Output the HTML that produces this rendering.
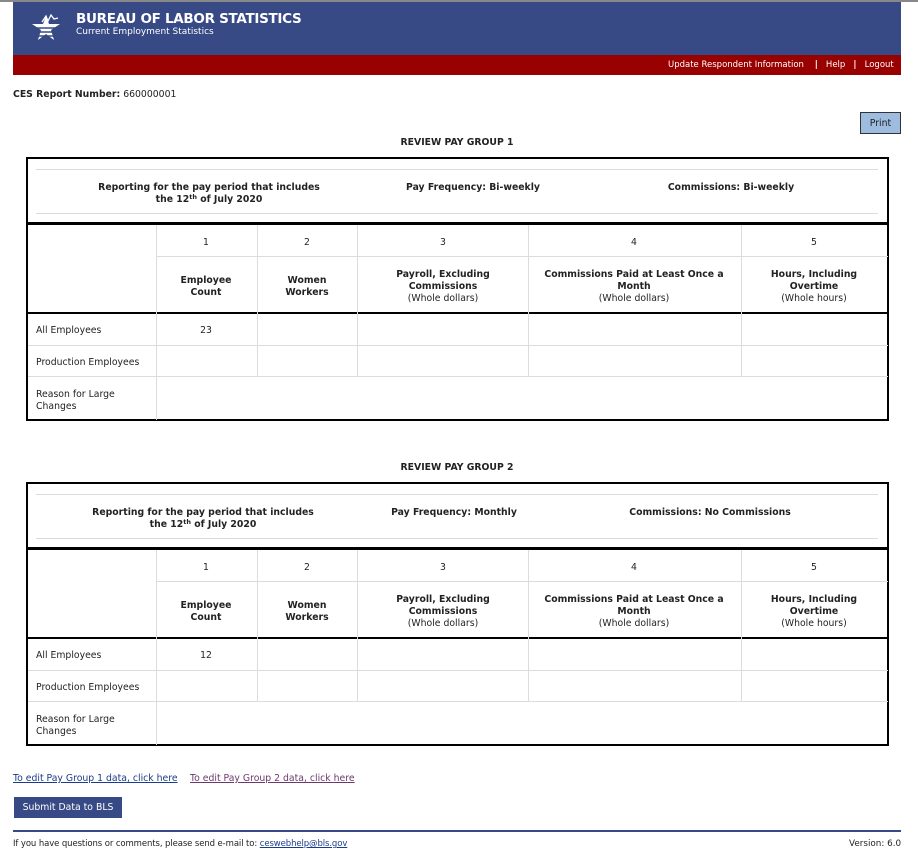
<!DOCTYPE html>
<html><head><meta charset="utf-8">
<style>
*{margin:0;padding:0;box-sizing:border-box}
body{width:918px;height:864px;background:#fff;font-family:"DejaVu Sans","Liberation Sans",sans-serif;font-size:9.3px;color:#222;position:relative;overflow:hidden}
.a{position:absolute}
.c{position:absolute;text-align:center;line-height:12px;transform:translateX(-50%);white-space:nowrap;margin-top:2px}
.b{font-weight:bold}
.tb{position:absolute;left:26px;width:863px;height:264px;border:2px solid #000}
.hl{position:absolute;background:#dcdcdc;height:1px}
.vl{position:absolute;background:#dcdcdc;width:1px}
.lbl{position:absolute;left:10px;line-height:12px;margin-top:2px}
sup{font-size:6.5px;line-height:0;vertical-align:3px}
</style></head><body>
<div class="a" style="left:0;top:0;width:918px;height:2px;background:#888"></div>
<div class="a" style="left:13px;top:2px;width:888px;height:53px;background:#374a86"></div>
<svg class="a" style="left:28px;top:12px" width="36" height="34" viewBox="0 0 36 34">
<polygon points="18,4 21,12 32,12 23,18 26,28 18,22 10,28 13,18 4,12 15,12" fill="#fff"/>
<g stroke="#374a86" stroke-width="1.4"><line x1="4" y1="16" x2="32" y2="16"/><line x1="4" y1="20" x2="32" y2="20"/><line x1="4" y1="24" x2="32" y2="24"/></g>
<polyline points="14,10 18,4 20,9 23,3 26,7 30,6" fill="none" stroke="#fff" stroke-width="1.3"/>
</svg>
<div class="a b" style="left:76px;top:11px;color:#fff;font-size:13.5px;letter-spacing:-0.3px">BUREAU OF LABOR STATISTICS</div>
<div class="a" style="left:76px;top:27px;color:#fff;font-size:9px">Current Employment Statistics</div>
<div class="a" style="left:13px;top:55px;width:888px;height:20px;background:#990000"></div>
<div class="a" style="left:668px;top:60px;color:#fff;font-size:8.5px;white-space:nowrap">Update Respondent Information &nbsp;&nbsp; <b>|</b> &nbsp;&nbsp;Help &nbsp; <b>|</b> &nbsp;&nbsp;Logout</div>
<div class="a" style="left:13px;top:89px"><b>CES Report Number:</b> 660000001</div>
<div class="a" style="left:860px;top:112px;width:41px;height:22px;background:#9dbcdf;border:1px solid #333;text-align:center;line-height:22px">Print</div>

<div class="c b" style="left:457px;top:135px">REVIEW PAY GROUP 1</div>
<div class="c b" style="left:457px;top:460px">REVIEW PAY GROUP 2</div>

<!-- TABLE 1 -->
<div class="tb" style="top:157px"></div>
<div class="hl" style="left:36px;top:169px;width:842px"></div>
<div class="hl" style="left:36px;top:213px;width:842px"></div>
<div class="c b" style="left:209px;top:180px">Reporting for the pay period that includes<br>the 12<sup>th</sup> of July 2020</div>
<div class="c b" style="left:473px;top:180px">Pay Frequency: Bi-weekly</div>
<div class="c b" style="left:731px;top:180px">Commissions: Bi-weekly</div>
<div class="a" style="left:26px;top:222px;width:863px;height:3px;background:#000"></div>
<div class="hl" style="left:156px;top:256px;width:732px"></div>
<div class="a" style="left:26px;top:312px;width:863px;height:2px;background:#000"></div>
<div class="hl" style="left:28px;top:345px;width:860px"></div>
<div class="hl" style="left:28px;top:376px;width:860px"></div>
<div class="vl" style="left:156px;top:225px;height:195px"></div>
<div class="vl" style="left:257px;top:225px;height:151px"></div>
<div class="vl" style="left:357px;top:225px;height:151px"></div>
<div class="vl" style="left:528px;top:225px;height:151px"></div>
<div class="vl" style="left:741px;top:225px;height:151px"></div>
<div class="c" style="left:206px;top:235px">1</div>
<div class="c" style="left:307px;top:235px">2</div>
<div class="c" style="left:443px;top:235px">3</div>
<div class="c" style="left:634px;top:235px">4</div>
<div class="c" style="left:814px;top:235px">5</div>
<div class="c b" style="left:206px;top:273px">Employee<br>Count</div>
<div class="c b" style="left:307px;top:273px">Women<br>Workers</div>
<div class="c" style="left:443px;top:267px"><b>Payroll, Excluding<br>Commissions</b><br>(Whole dollars)</div>
<div class="c" style="left:634px;top:267px"><b>Commissions Paid at Least Once a<br>Month</b><br>(Whole dollars)</div>
<div class="c" style="left:814px;top:267px"><b>Hours, Including<br>Overtime</b><br>(Whole hours)</div>
<div class="lbl" style="left:36px;top:323px">All Employees</div>
<div class="c" style="left:206px;top:323px">23</div>
<div class="lbl" style="left:36px;top:355px">Production Employees</div>
<div class="lbl" style="left:36px;top:387px">Reason for Large<br>Changes</div>

<!-- TABLE 2 -->
<div class="tb" style="top:482px"></div>
<div class="hl" style="left:36px;top:494px;width:842px"></div>
<div class="hl" style="left:36px;top:538px;width:842px"></div>
<div class="c b" style="left:203px;top:505px">Reporting for the pay period that includes<br>the 12<sup>th</sup> of July 2020</div>
<div class="c b" style="left:454px;top:505px">Pay Frequency: Monthly</div>
<div class="c b" style="left:710px;top:505px">Commissions: No Commissions</div>
<div class="a" style="left:26px;top:547px;width:863px;height:3px;background:#000"></div>
<div class="hl" style="left:156px;top:581px;width:732px"></div>
<div class="a" style="left:26px;top:637px;width:863px;height:2px;background:#000"></div>
<div class="hl" style="left:28px;top:670px;width:860px"></div>
<div class="hl" style="left:28px;top:701px;width:860px"></div>
<div class="vl" style="left:156px;top:550px;height:195px"></div>
<div class="vl" style="left:257px;top:550px;height:151px"></div>
<div class="vl" style="left:357px;top:550px;height:151px"></div>
<div class="vl" style="left:528px;top:550px;height:151px"></div>
<div class="vl" style="left:741px;top:550px;height:151px"></div>
<div class="c" style="left:206px;top:560px">1</div>
<div class="c" style="left:307px;top:560px">2</div>
<div class="c" style="left:443px;top:560px">3</div>
<div class="c" style="left:634px;top:560px">4</div>
<div class="c" style="left:814px;top:560px">5</div>
<div class="c b" style="left:206px;top:598px">Employee<br>Count</div>
<div class="c b" style="left:307px;top:598px">Women<br>Workers</div>
<div class="c" style="left:443px;top:592px"><b>Payroll, Excluding<br>Commissions</b><br>(Whole dollars)</div>
<div class="c" style="left:634px;top:592px"><b>Commissions Paid at Least Once a<br>Month</b><br>(Whole dollars)</div>
<div class="c" style="left:814px;top:592px"><b>Hours, Including<br>Overtime</b><br>(Whole hours)</div>
<div class="lbl" style="left:36px;top:648px">All Employees</div>
<div class="c" style="left:206px;top:648px">12</div>
<div class="lbl" style="left:36px;top:680px">Production Employees</div>
<div class="lbl" style="left:36px;top:712px">Reason for Large<br>Changes</div>

<div class="a" style="left:13px;top:773px;color:#1a3c8c;text-decoration:underline">To edit Pay Group 1 data, click here</div>
<div class="a" style="left:190px;top:773px;color:#6b3a6b;text-decoration:underline">To edit Pay Group 2 data, click here</div>
<div class="a" style="left:14px;top:797px;width:108px;height:21px;background:#374a86;color:#fff;text-align:center;line-height:21px">Submit Data to BLS</div>
<div class="a" style="left:13px;top:830px;width:888px;height:2px;background:#374a86"></div>
<div class="a" style="left:13px;top:839px;font-size:8.5px;letter-spacing:-0.1px">If you have questions or comments, please send e-mail to: <span style="color:#1a3c8c;text-decoration:underline">ceswebhelp@bls.gov</span></div>
<div class="a" style="left:849px;top:839px;font-size:8.8px">Version: 6.0</div>
</body></html>
